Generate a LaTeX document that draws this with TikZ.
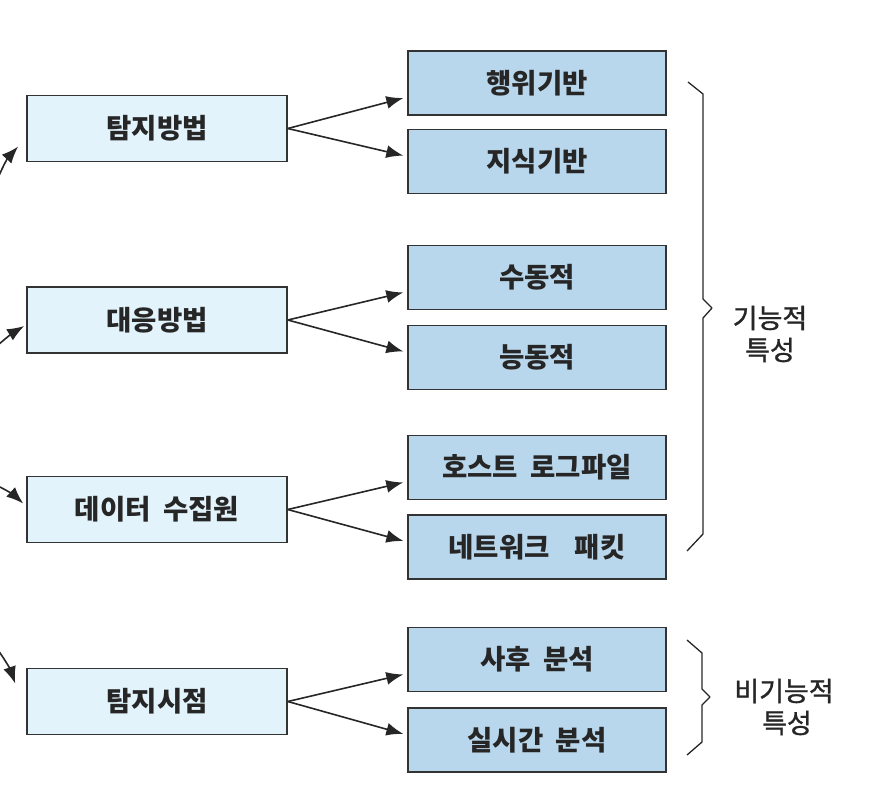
\documentclass[tikz,border=0pt]{standalone}
\usepackage{fontspec}
\setmainfont{Noto Sans CJK KR}
\newfontfamily\labelfont{Noto Sans CJK KR}[FakeBold=1.2]
\usetikzlibrary{arrows.meta,calc}
\definecolor{leftfill}{HTML}{E2F3FB}
\definecolor{rightfill}{HTML}{B9D7EC}
\definecolor{edgecol}{HTML}{333333}
\begin{document}
\begin{tikzpicture}[x=1pt,y=-1pt,
  lbox/.style={draw=edgecol,line width=1.6pt,fill=leftfill,minimum width=260pt,minimum height=66pt,inner sep=0pt,font=\fontsize{27.5}{30}\selectfont\bfseries,text=black!85},
  rbox/.style={draw=edgecol,line width=1.6pt,fill=rightfill,minimum width=258pt,minimum height=64pt,inner sep=0pt,font=\fontsize{27.5}{30}\selectfont\bfseries,text=black!85},
  conn/.style={draw=black!85,line width=1.6pt,-{Latex[length=17pt,width=13pt]}},
  bracepath/.style={draw=black!85,line width=1.3pt,line join=round},
  blabel/.style={font=\labelfont\fontsize{27}{32}\selectfont,align=center,text=black!85,inner sep=0pt}]
\useasboundingbox (0,0) rectangle (872,796);
% left nodes
\node[lbox] (t1) at (157,128.5) {탐지방법};
\node[lbox] (t2) at (157,320) {대응방법};
\node[lbox] (t3) at (157,509.5) {데이터\ \ 수집원};
\node[lbox] (t4) at (157,701.5) {탐지시점};
% right nodes
\node[rbox] (r1) at (537,83) {행위기반};
\node[rbox] (r2) at (537,161.5) {지식기반};
\node[rbox] (r3) at (537,277.5) {수동적};
\node[rbox] (r4) at (537,357.5) {능동적};
\node[rbox] (r5) at (537,467.5) {호스트\ \ 로그파일};
\node[rbox] (r6) at (537,547) {네트워크\ \ \ \ 패킷};
\node[rbox] (r7) at (537,659.5) {사후\ \ 분석};
\node[rbox] (r8) at (537,740) {실시간\ \ 분석};
% connectors
\foreach \s/\a/\b in {t1/r1/r2,t2/r3/r4,t3/r5/r6,t4/r7/r8}{
  \draw[conn,shorten >=4pt] (\s.east) -- ($(\a.west)+(0,14)$);
  \draw[conn,shorten >=4pt] (\s.east) -- ($(\b.west)+(0,-5)$);
}
% incoming arrows from the left edge
\coordinate (e1) at (-2,178);
\coordinate (e2) at (-2,345);
\coordinate (e3) at (-2,486);
\coordinate (e4) at (-2,650);
\draw[conn] (e1) to[bend left=10] ($(t1.west)+(-8,18)$);
\draw[conn] (e2) to[bend left=5] ($(t2.west)+(-2,6)$);
\draw[conn] (e3) to[bend left=8] ($(t3.west)+(-3,-6)$);
\draw[conn] (e4) to[bend left=8] ($(t4.west)+(-11,-18)$);
% braces
\draw[bracepath] (688,82) -- (703,94) -- (703,299) -- (712,308) -- (703,318) -- (703,534) -- (687,551);
\draw[bracepath] (687,640) -- (702,653) -- (702,689) -- (710,697) -- (702,705) -- (702,742) -- (687,755);
\node[blabel] (l1) at (770,334) {기능적\\특성};
\node[blabel] (l2) at (784,707) {비기능적\\\ 특성};
\end{tikzpicture}
\end{document}
